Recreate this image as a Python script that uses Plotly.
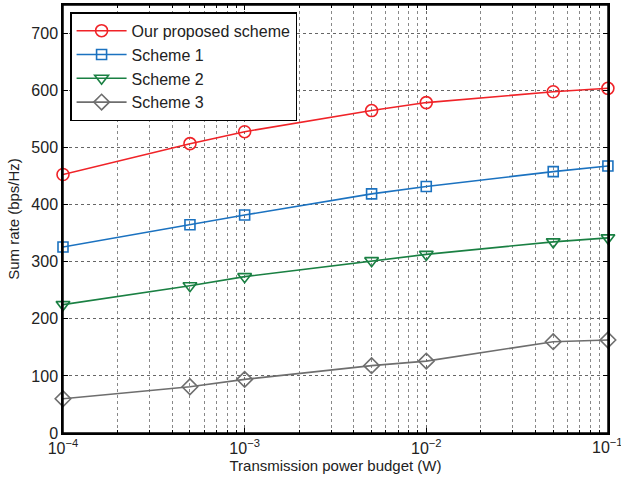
import plotly.graph_objects as go

power = [1e-4, 5e-4, 1e-3, 5e-3, 1e-2, 5e-2, 1e-1]
proposed = [453, 507, 528, 565, 579, 598, 604]
scheme1 = [326, 365, 382, 419, 432, 458, 468]
scheme2 = [225, 258, 274, 302, 313, 335, 342]
scheme3 = [60, 81, 94, 118, 126, 160, 163]
x_ticks = [1e-4, 1e-3, 1e-2, 1e-1]
x_tick_labels = ["10<sup>\u22124</sup>", "10<sup>\u22123</sup>", "10<sup>\u22122</sup>", "10<sup>\u22121</sup>"]
y_ticks = [0, 100, 200, 300, 400, 500, 600, 700]

series = [
    ("Our proposed scheme", proposed, "#f02328", "circle-open", 12),
    ("Scheme 1", scheme1, "#1b72c0", "square-open", 10),
    ("Scheme 2", scheme2, "#1a8043", "triangle-down-open", 12),
    ("Scheme 3", scheme3, "#6e6e6e", "diamond-open", 12),
]

fig = go.Figure()
for name, ys, col, sym, sz in series:
    fig.add_trace(go.Scatter(
        x=power, y=ys, name=name, mode="lines+markers", cliponaxis=False,
        line=dict(color=col, width=1.6),
        marker=dict(symbol=sym, size=sz, color=col, line=dict(color=col, width=1.6)),
    ))

tick_font = dict(family="Liberation Sans, Arial", size=16, color="#222")
axis_common = dict(
    showline=True, linecolor="black", linewidth=1.5, mirror="ticks",
    ticks="inside", ticklen=5, tickcolor="black",
    showgrid=True, gridcolor="#666", griddash="dot", gridwidth=1,
    zeroline=False, automargin=False,
    tickfont=tick_font,
)

fig.update_xaxes(
    type="log", range=[-4, -0.9995], tickvals=x_ticks[:-1], ticktext=x_tick_labels[:-1],
    minor=dict(dtick="D1", showgrid=True, gridcolor="#888", griddash="dot",
               ticks="inside", ticklen=3, tickcolor="black"),
    title=dict(text="Transmission power budget (W)",
               font=dict(family="Liberation Sans, Arial", size=15, color="#222"), standoff=2),
    **axis_common,
)
fig.update_yaxes(
    range=[0, 750], tickvals=y_ticks,
    title=dict(text="Sum rate (bps/Hz)",
               font=dict(family="Liberation Sans, Arial", size=15, color="#222"), standoff=8),
    **axis_common,
)

# last x tick label (at the right edge) drawn as an annotation so it is not dropped
fig.add_annotation(x=-1, xref="x", y=0, yref="paper", text=x_tick_labels[-1],
                   showarrow=False, xanchor="center", yanchor="top", yshift=-1,
                   font=tick_font)

fig.add_shape(type="rect", xref="paper", yref="paper", x0=0, x1=1, y0=0, y1=1,
              line=dict(color="black", width=1.5), layer="above")

fig.update_layout(
    width=621, height=485,
    margin=dict(l=63, r=13, t=5, b=52),
    paper_bgcolor="white", plot_bgcolor="white",
    font=dict(family="Liberation Sans, Arial", size=15, color="#222"),
    legend=dict(
        x=0.013, y=0.983, xanchor="left", yanchor="top",
        bgcolor="white", bordercolor="black", borderwidth=1.5,
        font=dict(family="Liberation Sans, Arial", size=16, color="#222"),
        itemwidth=50, tracegroupgap=0,
    ),
    showlegend=True,
)

fig.write_html("out.html", config={"displayModeBar": False})
with open("out.html", "r", encoding="utf-8") as f:
    html = f.read()
html = html.replace("<head>", "<head><style>html,body{margin:0;padding:0;overflow:hidden;}</style>", 1)
with open("out.html", "w", encoding="utf-8") as f:
    f.write(html)
